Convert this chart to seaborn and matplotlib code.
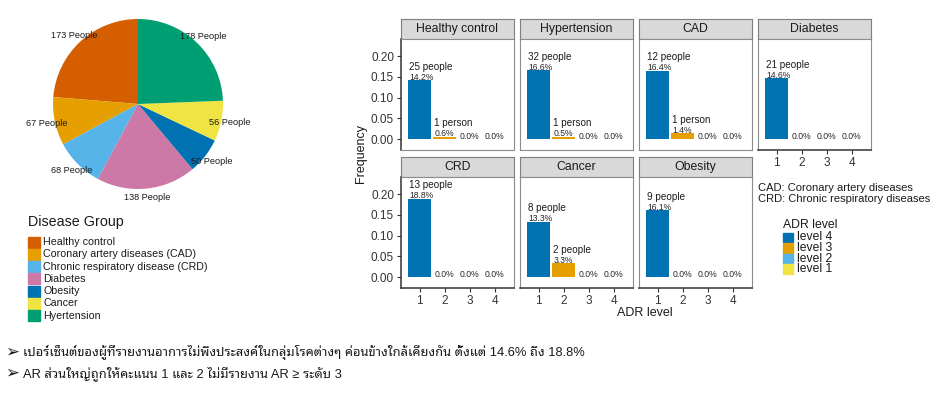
import matplotlib
matplotlib.use("Agg")
import matplotlib.pyplot as plt
from matplotlib.patches import Rectangle
import numpy as np
import pandas as pd
import seaborn as sns

# ---------------- data ----------------
groups = ["Healthy control", "Coronary artery diseases (CAD)",
          "Chronic respiratory disease (CRD)", "Diabetes", "Obesity",
          "Cancer", "Hyertension"]
group_counts = [173, 67, 68, 138, 50, 56, 178]
group_colors = ["#D55E00", "#E69F00", "#56B4E9", "#CC79A7", "#0072B2",
                "#F0E442", "#009E73"]

panels = ["Healthy control", "Hypertension", "CAD", "Diabetes",
          "CRD", "Cancer", "Obesity"]
levels = ["1", "2", "3", "4"]
freq = {
    "Healthy control": [0.142, 0.006, 0.0, 0.0],
    "Hypertension":    [0.166, 0.005, 0.0, 0.0],
    "CAD":             [0.164, 0.014, 0.0, 0.0],
    "Diabetes":        [0.146, 0.0, 0.0, 0.0],
    "CRD":             [0.188, 0.0, 0.0, 0.0],
    "Cancer":          [0.133, 0.033, 0.0, 0.0],
    "Obesity":         [0.161, 0.0, 0.0, 0.0],
}
people = {
    "Healthy control": ["25 people", "1 person", "", ""],
    "Hypertension":    ["32 people", "1 person", "", ""],
    "CAD":             ["12 people", "1 person", "", ""],
    "Diabetes":        ["21 people", "", "", ""],
    "CRD":             ["13 people", "", "", ""],
    "Cancer":          ["8 people", "2 people", "", ""],
    "Obesity":         ["9 people", "", "", ""],
}
level_colors = ["#0072B2", "#E69F00", "#56B4E9", "#F0E442"]
adr_legend_labels = ["level 4", "level 3", "level 2", "level 1"]
abbrev_notes = ["CAD: Coronary artery diseases",
                "CRD: Chronic respiratory diseases"]
thai_lines = [
    "เปอร์เซ็นต์ของผู้ที่รายงานอาการไม่พึงประสงค์ในกลุ่มโรคต่างๆ ค่อนข้างใกล้เคียงกัน ตั้งแต่ 14.6% ถึง 18.8%",
    "AR ส่วนใหญ่ถูกให้คะแนน 1 และ 2 ไม่มีรายงาน AR ≥ ระดับ 3",
]

rows = []
for p in panels:
    for lv, v, lab in zip(levels, freq[p], people[p]):
        rows.append({"panel": p, "level": lv, "freq": v, "people": lab})
df = pd.DataFrame(rows)

# ---------------- figure ----------------
sns.set_theme(style="white")
plt.rcParams["font.family"] = ["Liberation Sans", "DejaVu Sans"]

W, H = 936, 397
fig = plt.figure(figsize=(W / 100, H / 100), dpi=100)


def box(x0, y0, w, h):
    """pixel box (top-left origin) -> figure fraction rect"""
    return [x0 / W, 1 - (y0 + h) / H, w / W, h / H]


# ---------------- pie ----------------
axp = fig.add_axes(box(53, 19, 170, 170))
axp.pie(group_counts, colors=group_colors, startangle=90, counterclock=True,
        labels=[f"{c} People" for c in group_counts], labeldistance=1.1,
        wedgeprops=dict(linewidth=0),
        textprops=dict(fontsize=6.6, color="#1A1A1A", ha="center", va="center"))
axp.set_xlim(-1, 1)
axp.set_ylim(-1, 1)
axp.set_aspect("equal")
axp.axis("off")

# Disease group legend
fig.text(28 / W, 1 - 222 / H, "Disease Group", fontsize=10.3, va="center",
         ha="left", color="#1A1A1A")
for i, (g, c) in enumerate(zip(groups, group_colors)):
    yc = 242 + i * 12.3
    fig.patches.append(Rectangle((28 / W, 1 - (yc + 5.5) / H), 12 / W, 11 / H,
                                 transform=fig.transFigure, color=c))
    fig.text(43 / W, 1 - yc / H, g, fontsize=7.7, va="center", ha="left",
             color="#1A1A1A")

# ---------------- facets ----------------
col_x = [401, 520, 639, 758]
pw = 113
strip_y = [19, 157]
strip_h = 20
panel_h = 111
ylo, yhi = -0.0265, 0.241
xlo, xhi = -0.74, 3.74
palette = dict(zip(levels, level_colors))

for k, p in enumerate(panels):
    r, c = divmod(k, 4)
    x0 = col_x[c]
    sy = strip_y[r]
    # strip
    axs = fig.add_axes(box(x0, sy, pw, strip_h))
    axs.set_facecolor("#D9D9D9")
    axs.set_xticks([]); axs.set_yticks([])
    for s in axs.spines.values():
        s.set_color("#7F7F7F"); s.set_linewidth(0.8)
    axs.text(0.5, 0.5, p, ha="center", va="center", fontsize=8.8,
             color="#1A1A1A", transform=axs.transAxes)
    # panel
    ax = fig.add_axes(box(x0, sy + strip_h, pw, panel_h))
    sub = df[df.panel == p]
    sns.barplot(data=sub, x="level", y="freq", hue="level", palette=palette,
                order=levels, hue_order=levels, legend=False, width=0.92,
                linewidth=0, saturation=1, ax=ax)
    ax.set_xlim(xlo, xhi)
    ax.set_ylim(ylo, yhi)
    ax.set_xlabel(""); ax.set_ylabel("")
    ax.set_facecolor("white")
    for s in ax.spines.values():
        s.set_color("#8C8C8C"); s.set_linewidth(0.8)
    # labels
    for i, (v, lab) in enumerate(zip(sub.freq, sub.people)):
        xl = i - 0.42
        ax.annotate(f"{v * 100:.1f}%", (xl, v), xytext=(0, -1.5),
                    textcoords="offset pixels", ha="left", va="bottom",
                    fontsize=6.2, color="#262626")
        if lab:
            ax.annotate(lab, (xl, v), xytext=(0, 8.5),
                        textcoords="offset pixels", ha="left", va="bottom",
                        fontsize=7.1, color="#1A1A1A")
    # axes ticks
    ax.set_yticks([0, 0.05, 0.10, 0.15, 0.20])
    ax.set_xticks(range(4))
    ax.set_xticklabels(["1", "2", "3", "4"])
    left = c == 0
    bottom = (r == 1) or (k == 3)
    ax.tick_params(axis="y", left=left, labelleft=left, length=3, width=0.8,
                   color="#333333", labelsize=8.5, labelcolor="#333333", pad=2)
    ax.tick_params(axis="x", bottom=bottom, labelbottom=bottom, length=3,
                   width=0.8, color="#333333", labelsize=8.5,
                   labelcolor="#333333", pad=2)
    if left:
        ax.set_yticklabels(["0.00", "0.05", "0.10", "0.15", "0.20"])
        ax.spines["left"].set_color("#333333")
        ax.spines["left"].set_linewidth(1.1)
    if bottom:
        ax.spines["bottom"].set_color("#333333")
        ax.spines["bottom"].set_linewidth(1.1)

fig.text(361 / W, 1 - 153 / H, "Frequency", rotation=90, fontsize=9,
         ha="center", va="center", color="#1A1A1A")
fig.text(645 / W, 1 - 313 / H, "ADR level", fontsize=9, ha="center",
         va="center", color="#1A1A1A")

# notes
for i, t in enumerate(abbrev_notes):
    fig.text(758 / W, 1 - (188 + i * 11) / H, t, fontsize=8.0, ha="left",
             va="center", color="#1A1A1A")

# ADR legend
fig.text(783 / W, 1 - 225 / H, "ADR level", fontsize=8.8, ha="left",
         va="center", color="#1A1A1A")
for i, (lab, col) in enumerate(zip(adr_legend_labels, level_colors)):
    yc = 237.5 + i * 10.5
    fig.patches.append(Rectangle((783 / W, 1 - (yc + 4.6) / H), 10 / W, 9.2 / H,
                                 transform=fig.transFigure, color=col))
    fig.text(797 / W, 1 - yc / H, lab, fontsize=8.7, ha="left", va="center",
             color="#1A1A1A")

# ---------------- Thai bullet lines ----------------
for i, t in enumerate(thai_lines):
    base = 356 + i * 21
    fig.text(12.5 / W, 1 - (base - 4) / H, "➢", fontsize=12, ha="center",
             va="center", family=["DejaVu Sans"], color="#1A1A1A")
    fig.text(23 / W, 1 - base / H, t, fontsize=9.3, ha="left", va="baseline",
             family=["Liberation Sans", "Noto Sans Thai Looped", "DejaVu Sans"],
             color="#1A1A1A")

fig.savefig("out.png", dpi=100, facecolor="white")
